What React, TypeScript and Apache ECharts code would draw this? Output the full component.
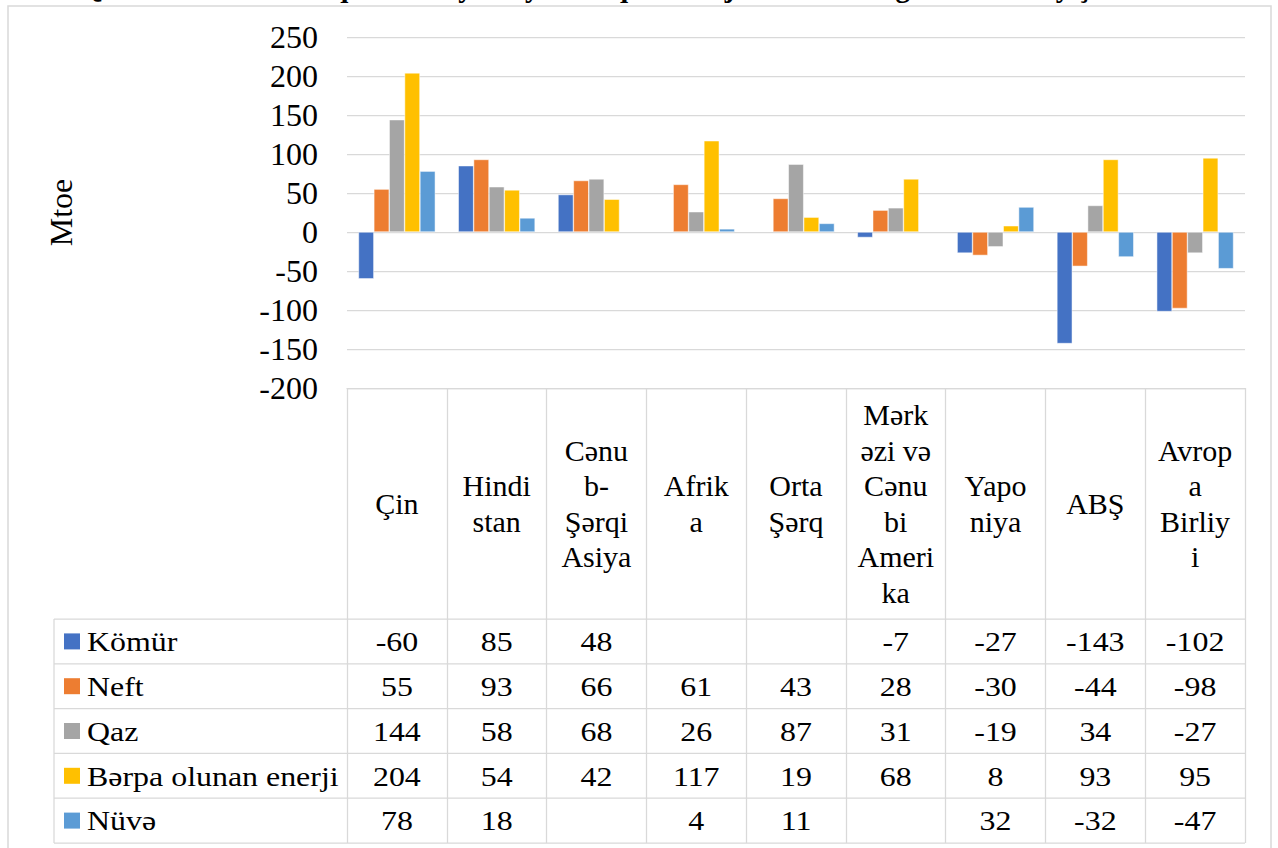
import React, { useEffect, useRef } from "react";
import * as echarts from "echarts";

// Regions (categories) and their wrapped header texts in the data table
const categories = [
  "Çin",
  "Hindistan",
  "Cənub-Şərqi Asiya",
  "Afrika",
  "Orta Şərq",
  "Mərkəzi və Cənubi Amerika",
  "Yaponiya",
  "ABŞ",
  "Avropa Birliyi",
];
const categoryLabels = [
  "Çin",
  "Hindi\nstan",
  "Cənu\nb-\nŞərqi\nAsiya",
  "Afrik\na",
  "Orta\nŞərq",
  "Mərk\nəzi və\nCənu\nbi\nAmeri\nka",
  "Yapo\nniya",
  "ABŞ",
  "Avrop\na\nBirliy\ni",
];

// Change in demand by fuel, Mtoe (null = no value)
const seriesNames = ["Kömür", "Neft", "Qaz", "Bərpa olunan enerji", "Nüvə"];
const komur = [-60, 85, 48, null, null, -7, -27, -143, -102];
const neft = [55, 93, 66, 61, 43, 28, -30, -44, -98];
const qaz = [144, 58, 68, 26, 87, 31, -19, 34, -27];
const berpa = [204, 54, 42, 117, 19, 68, 8, 93, 95];
const nuve = [78, 18, null, 4, 11, null, 32, -32, -47];
const seriesData = [komur, neft, qaz, berpa, nuve];
const colors = ["#4472C4", "#ED7D31", "#A5A5A5", "#FFC000", "#5B9BD5"];

const yMin = -200;
const yMax = 250;
const yStep = 50;
const yTitle = "Mtoe";
const title =
  "Qrafik 1. 2040-cı ilə qədər dünyada yanacaq və enerji tələbatında gözlənilən dəyişikliklər";

const FONT = "Liberation Serif";
const GRID_COLOR = "#d9d9d9";
const TABLE_FONT = 28;
const TABLE_STRETCH = 1.14;

// Layout
const W = 1278;
const H = 848;
const PLOT_LEFT = 347;
const PLOT_RIGHT = 1245;
const PLOT_TOP = 37;
const PLOT_BOTTOM = 388;
const HEADER_BOTTOM = 619;
const ROW_H = 44.8;
const TABLE_LEFT = 54;
const TABLE_BOTTOM = HEADER_BOTTOM + ROW_H * seriesNames.length;

export default function App() {
  const ref = useRef<HTMLDivElement>(null);

  useEffect(() => {
    if (!ref.current) return;
    const chart = echarts.init(ref.current, undefined, { renderer: "svg" });

    chart.setOption({
      animation: false,
      backgroundColor: "#ffffff",
      textStyle: { fontFamily: FONT },
      grid: {
        left: PLOT_LEFT,
        right: W - PLOT_RIGHT,
        top: PLOT_TOP,
        bottom: H - PLOT_BOTTOM,
        containLabel: false,
      },
      xAxis: {
        type: "category",
        data: categories,
        position: "bottom",
        axisLine: {
          show: true,
          onZero: false,
          lineStyle: { color: GRID_COLOR, width: 1.25 },
        },
        axisTick: {
          show: true,
          length: TABLE_BOTTOM - PLOT_BOTTOM,
          lineStyle: { color: GRID_COLOR, width: 1.25 },
        },
        axisLabel: {
          interval: 0,
          margin: (HEADER_BOTTOM - PLOT_BOTTOM) / 2,
          verticalAlign: "middle",
          fontFamily: FONT,
          fontSize: 30,
          lineHeight: 35.5,
          color: "#000",
          formatter: (_v: string, i: number) => categoryLabels[i],
        },
      },
      yAxis: {
        type: "value",
        min: yMin,
        max: yMax,
        interval: yStep,
        name: yTitle,
        nameLocation: "middle",
        nameRotate: 90,
        nameGap: 270,
        nameTextStyle: { fontFamily: FONT, fontSize: 32, color: "#000" },
        axisLine: { show: false },
        axisTick: { show: false },
        axisLabel: {
          margin: 29,
          fontFamily: FONT,
          fontSize: 32,
          color: "#000",
        },
        splitLine: { lineStyle: { color: GRID_COLOR, width: 1.25 } },
      },
      series: seriesNames.map((name, k) => ({
        name,
        type: "bar",
        data: seriesData[k],
        barGap: "0%",
        barCategoryGap: "23%",
        itemStyle: { color: colors[k], borderColor: "#ffffff", borderWidth: 0.5 },
      })),
    });

    // Data table under the plot, aligned on the category axis
    const xs = categories.map((c) => chart.convertToPixel({ xAxisIndex: 0 }, c) as number);
    const graphic: any[] = [];

    graphic.push({
      type: "rect",
      silent: true,
      shape: { x: 8, y: 6, width: 1263, height: 900 },
      style: { fill: "none", stroke: GRID_COLOR, lineWidth: 1.5 },
    });
    graphic.push({
      type: "text",
      silent: true,
      x: 630,
      y: -13.5,
      style: {
        text: title,
        fontFamily: FONT,
        fontSize: 29,
        fontWeight: "bold",
        fill: "#000",
        align: "center",
        verticalAlign: "middle",
      },
    });

    for (let r = 0; r <= seriesNames.length; r++) {
      const y = HEADER_BOTTOM + r * ROW_H;
      graphic.push({
        type: "line",
        silent: true,
        shape: { x1: TABLE_LEFT, y1: y, x2: PLOT_RIGHT, y2: y },
        style: { stroke: GRID_COLOR, lineWidth: 1.25 },
      });
    }
    graphic.push({
      type: "line",
      silent: true,
      shape: { x1: TABLE_LEFT, y1: HEADER_BOTTOM, x2: TABLE_LEFT, y2: TABLE_BOTTOM },
      style: { stroke: GRID_COLOR, lineWidth: 1.25 },
    });

    const cellText = (text: string, x: number, y: number, align: string) => ({
      type: "text",
      silent: true,
      x,
      y,
      scaleX: TABLE_STRETCH,
      style: {
        text,
        fontFamily: FONT,
        fontSize: TABLE_FONT,
        fill: "#000",
        align,
        verticalAlign: "middle",
      },
    });

    seriesNames.forEach((name, k) => {
      const cy = HEADER_BOTTOM + (k + 0.5) * ROW_H;
      graphic.push({
        type: "rect",
        silent: true,
        shape: { x: 64, y: cy - 8, width: 16, height: 16 },
        style: { fill: colors[k] },
      });
      graphic.push(cellText(name, 87, cy, "left"));
      seriesData[k].forEach((v, i) => {
        if (v === null || v === undefined) return;
        graphic.push(cellText(String(v), xs[i], cy, "center"));
      });
    });

    chart.setOption({ graphic });

    return () => chart.dispose();
  }, []);

  return (
    <div
      ref={ref}
      style={{ position: "fixed", left: 0, top: 0, width: W, height: H, background: "#fff" }}
    />
  );
}
